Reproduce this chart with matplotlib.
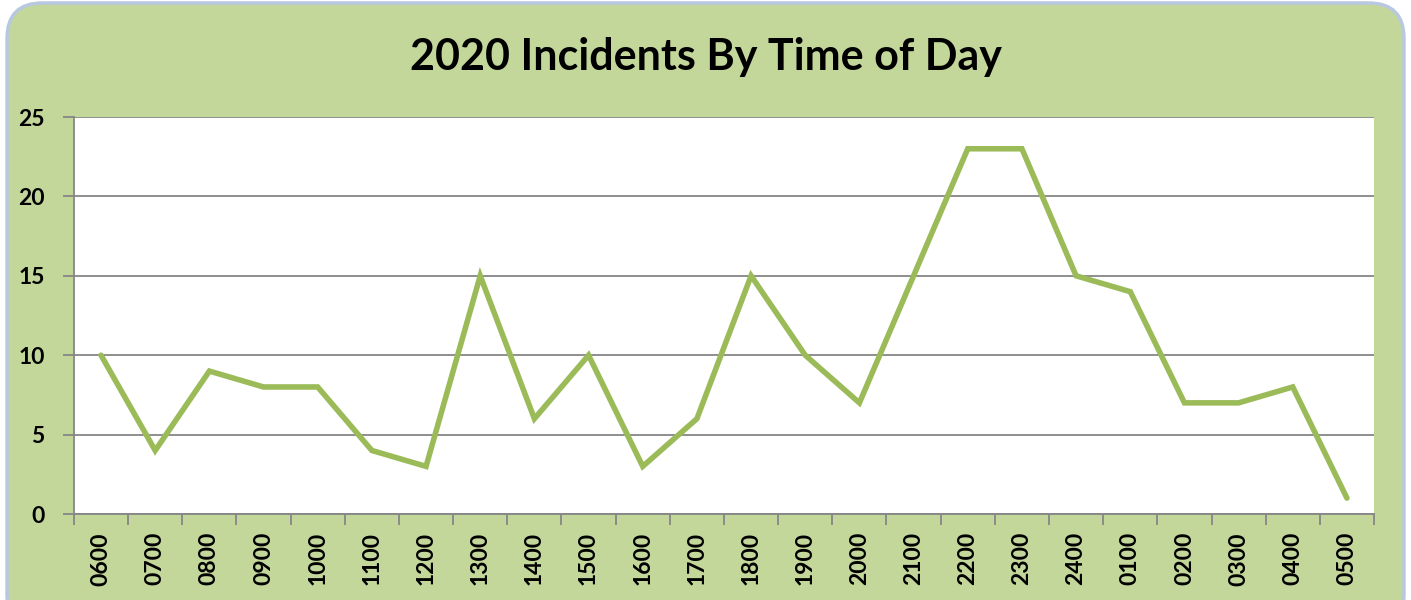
import numpy as np
import matplotlib.pyplot as plt
from matplotlib.patches import FancyBboxPatch

# 数据
hours = ['0600', '0700', '0800', '0900', '1000', '1100', '1200', '1300',
         '1400', '1500', '1600', '1700', '1800', '1900', '2000', '2100',
         '2200', '2300', '2400', '0100', '0200', '0300', '0400', '0500']
incidents = [10, 4, 9, 8, 8, 4, 3, 15, 6, 10, 3, 6, 15, 10, 7, 15,
             23, 23, 15, 14, 7, 7, 8, 1]

plt.rcParams['font.family'] = ['Lato', 'DejaVu Sans']

fig = plt.figure(figsize=(14.11, 6.0), dpi=100)
fig.patch.set_facecolor('white')

# 圆角绿色背景
bg = FancyBboxPatch((0.005, -0.05), 0.99, 1.045,
                    boxstyle='round,pad=0,rounding_size=0.025',
                    transform=fig.transFigure, facecolor='#c4d79b',
                    edgecolor='#b8c8e0', linewidth=2.5, zorder=-5,
                    mutation_aspect=1411 / 600)
fig.patches.append(bg)

ax = fig.add_axes([0.0524, 0.1433, 0.9214, 0.6617])
ax.set_zorder(2)
ax.set_facecolor('white')

x = np.arange(len(hours))
ax.plot(x, incidents, color='#9bbb59', linewidth=4,
        solid_capstyle='round', solid_joinstyle='miter', zorder=3)

ax.set_xlim(-0.5, len(hours) - 0.5)
ax.set_ylim(0, 25)
ax.set_yticks([0, 5, 10, 15, 20, 25])
ax.yaxis.grid(True, color='#868686', linewidth=1.3)
ax.set_axisbelow(True)

ax.set_xticks(x)
ax.set_xticklabels(hours, rotation=90, fontsize=16.5, fontweight='bold')
ax.set_xticks(np.arange(-0.5, len(hours)), minor=True)
ax.tick_params(axis='x', which='major', length=0, pad=13)
ax.tick_params(axis='x', which='minor', length=8, width=1.3, color='#868686')
ax.tick_params(axis='y', length=8, width=1.3, color='#868686', labelsize=16.5, pad=13)
for lab in ax.get_yticklabels():
    lab.set_fontweight('bold')

for s in ['top', 'right']:
    ax.spines[s].set_visible(False)
for s in ['left', 'bottom']:
    ax.spines[s].set_color('#868686')
    ax.spines[s].set_linewidth(1.3)

fig.text(0.5, 0.905, '2020 Incidents By Time of Day', ha='center', va='center',
         fontsize=31, fontweight='bold')

fig.savefig('out.png', dpi=100)
